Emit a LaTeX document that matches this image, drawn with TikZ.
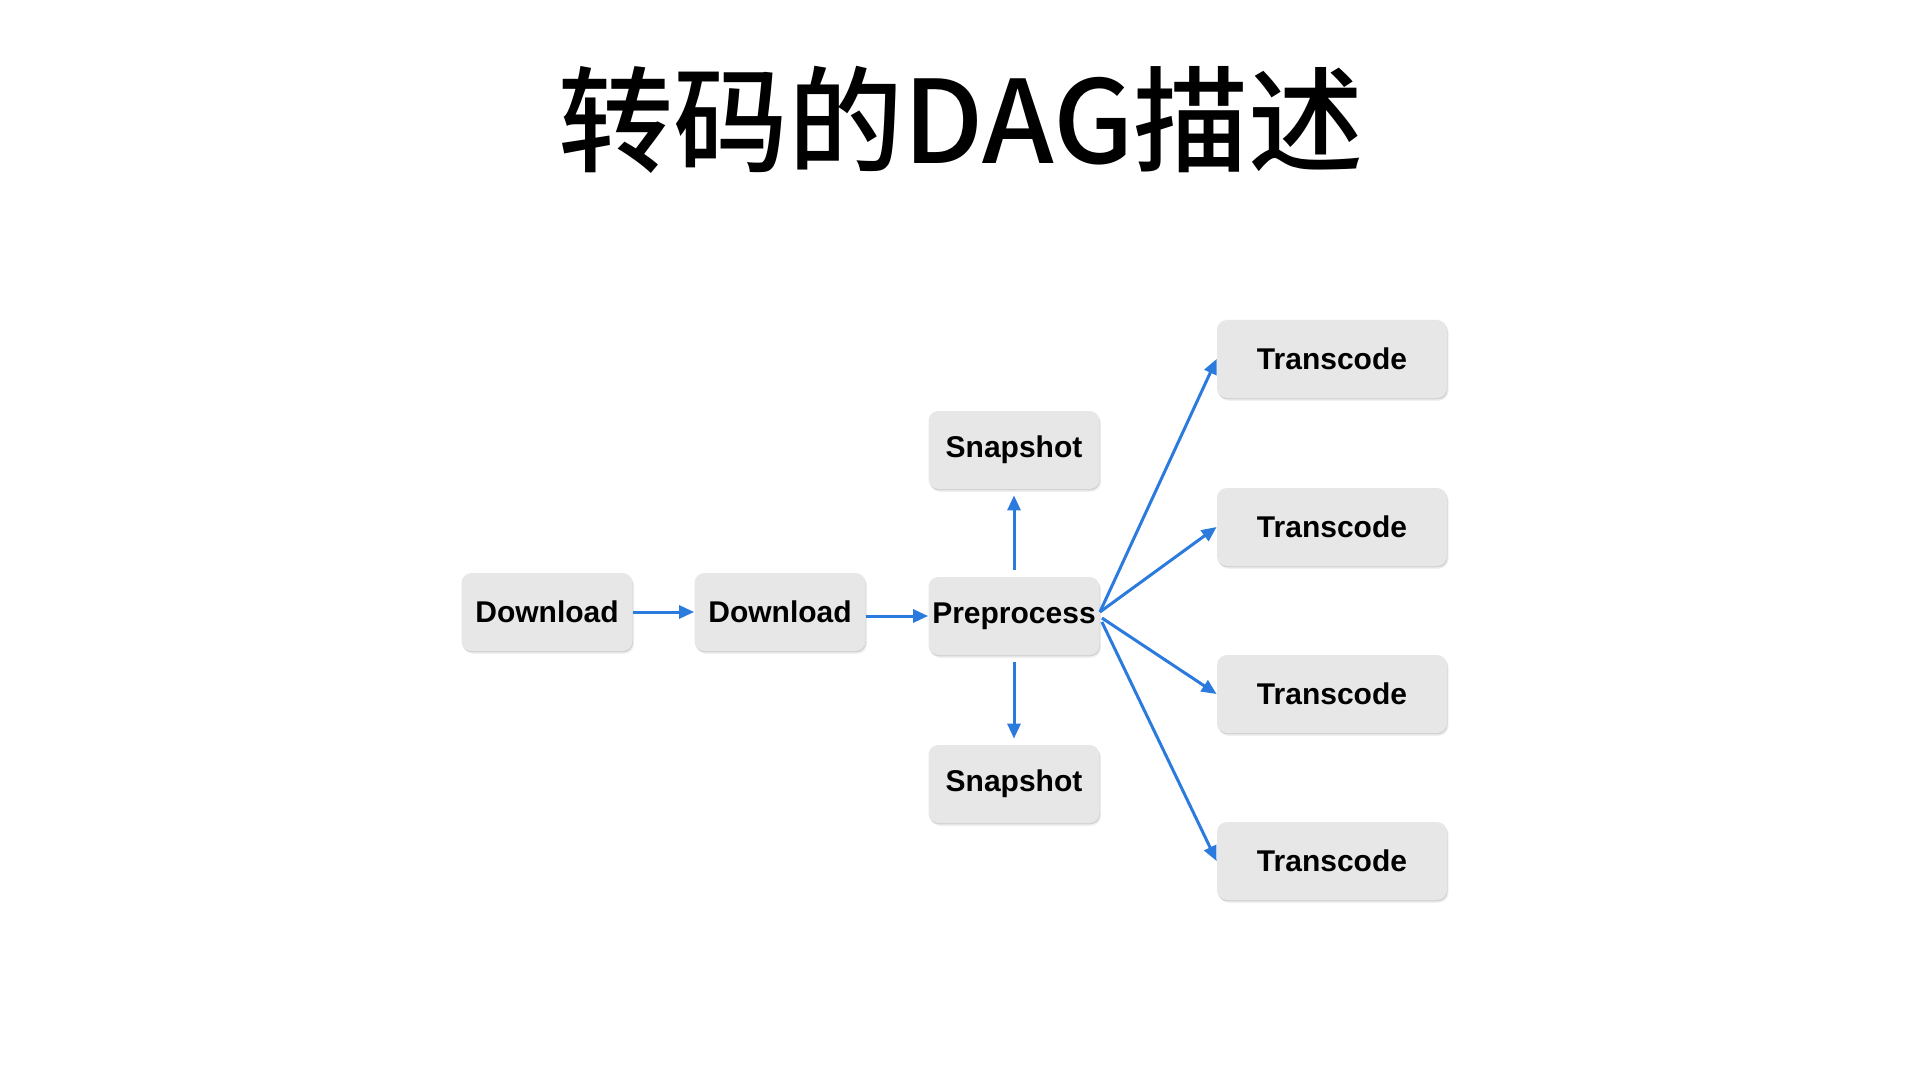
\documentclass[tikz,border=0pt]{standalone}
\usepackage{fontspec}
\setmainfont{Liberation Sans}
\newfontfamily\cjk{Noto Sans CJK SC}[UprightFont={* Medium}]
\usetikzlibrary{arrows.meta,shadows,calc}
\definecolor{boxgray}{HTML}{E7E7E7}
\definecolor{arrblue}{HTML}{2B7BDF}
\begin{document}
\begin{tikzpicture}[x=0.5pt,y=-0.5pt,
  box/.style={rounded corners=5pt, fill=boxgray, minimum width=85.5pt, minimum height=39pt,
    inner sep=0pt, font=\fontsize{15pt}{18pt}\selectfont\bfseries,
    drop shadow={shadow xshift=0.8pt, shadow yshift=-1.4pt, opacity=0.06, fill=black},
    drop shadow={shadow xshift=0.3pt, shadow yshift=-0.7pt, opacity=0.12, fill=black}},
  wbox/.style={box, minimum width=115pt},
  arr/.style={draw=arrblue, line width=1.5pt, -{Triangle[length=7.5pt,width=6.5pt]}}]
\fill[white] (0,0) rectangle (1920,1080);
\useasboundingbox (0,0) rectangle (1920,1080);
\node (title) at (961,120) {\cjk\fontsize{57.5pt}{57.5pt}\selectfont 转码的DAG描述};
\node[box] (d1) at (547,612) {Download};
\node[box] (d2) at (780,612) {Download};
\node[box] (pre) at (1014,616) {Preprocess};
\node[box] (s1) at (1014,450) {Snapshot};
\node[box] (s2) at (1014,784) {Snapshot};
\node[wbox] (t1) at (1332,359) {Transcode};
\node[wbox] (t2) at (1332,527) {Transcode};
\node[wbox] (t3) at (1332,694) {Transcode};
\node[wbox] (t4) at (1332,861) {Transcode};
\draw[arr] (d1.east) -- (d2.west);
\draw[arr] (d2.east |- pre.west) -- (pre.west);
\draw[arr, shorten <=3.5pt, shorten >=3pt] (pre.north) -- (s1.south);
\draw[arr, shorten <=3.5pt, shorten >=3pt] (pre.south) -- (s2.north);
\draw[arr] ($(pre.east)+(0,-4)$) -- (t1.west);
\draw[arr] ($(pre.east)+(0,-4)$) -- (t2.west);
\draw[arr] ($(pre.east)+(2,2)$) -- (t3.west);
\draw[arr] ($(pre.east)+(2,6)$) -- (t4.west);
\end{tikzpicture}
\end{document}
